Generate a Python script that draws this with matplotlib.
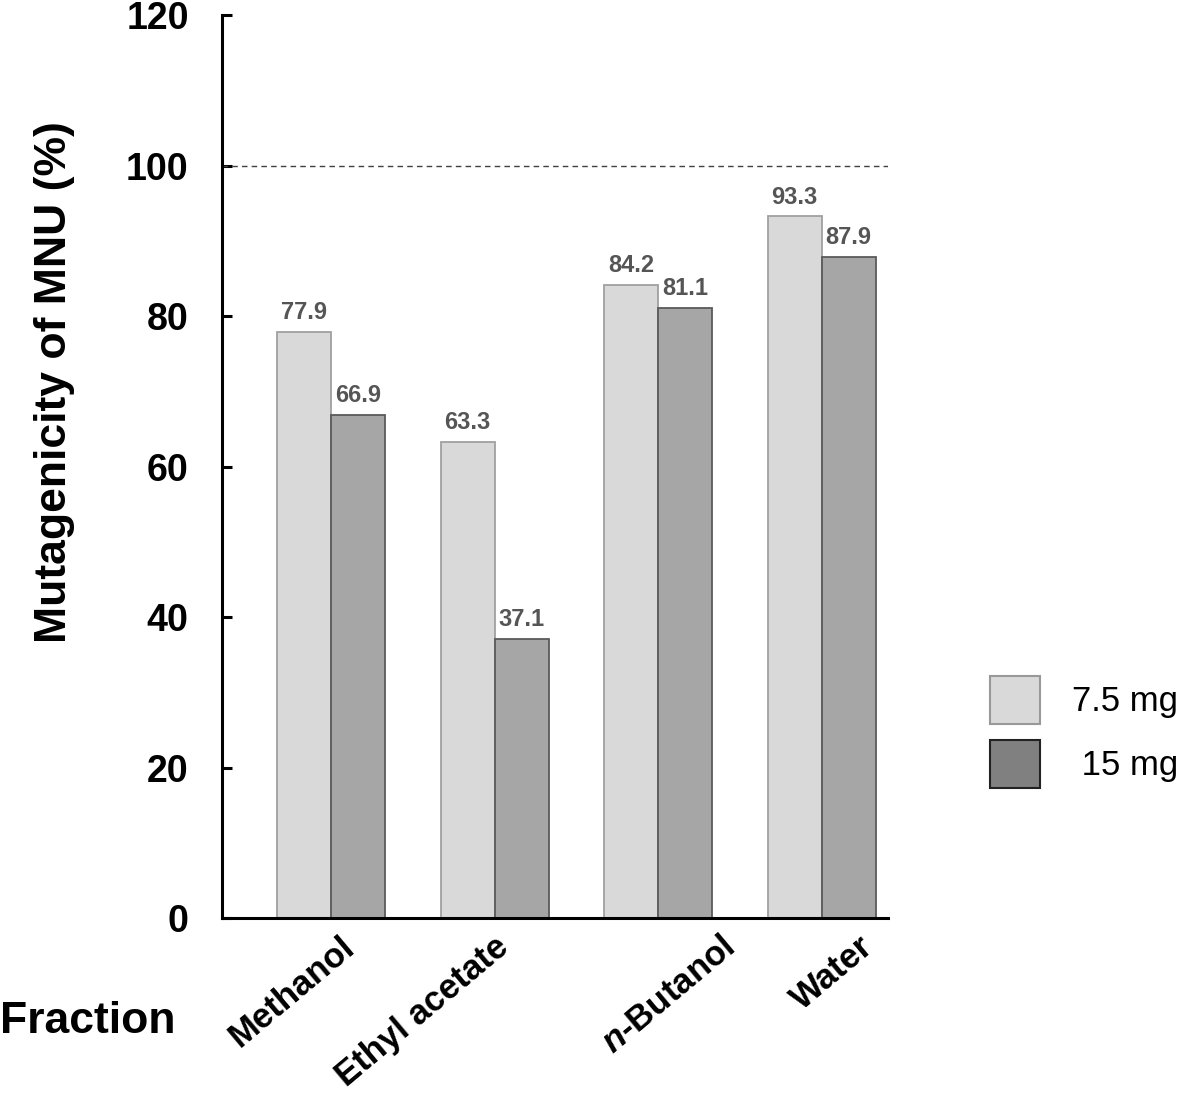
import matplotlib.pyplot as plt
import matplotlib.transforms as mtransforms
import numpy as np
from matplotlib.patches import Patch

plt.rcParams['font.family'] = 'Liberation Sans'
plt.rcParams['mathtext.fontset'] = 'custom'
plt.rcParams['mathtext.bfit'] = 'Liberation Sans:italic:bold'
plt.rcParams['mathtext.rm'] = 'Liberation Sans:bold'

# Dados
fracoes = ['Methanol', 'Ethyl acetate', '$\\mathbfit{n}$-Butanol', 'Water']
dose_7_5 = [77.9, 63.3, 84.2, 93.3]
dose_15 = [66.9, 37.1, 81.1, 87.9]
yticks = [0, 20, 40, 60, 80, 100, 120]
legendas = ['7.5 mg', ' 15 mg']

x = np.arange(len(fracoes))
w = 0.33

fig = plt.figure(figsize=(11.81, 10.98), dpi=100)
ax = fig.add_axes([0.188, 0.164, 0.564, 0.822])

b1 = ax.bar(x - w / 2, dose_7_5, w, color='#d9d9d9', edgecolor='#a0a0a0', linewidth=1.3)
b2 = ax.bar(x + w / 2, dose_15, w, color='#a6a6a6', edgecolor='#5a5a5a', linewidth=1.3)

for bars, vals in [(b1, dose_7_5), (b2, dose_15)]:
    for b, v in zip(bars, vals):
        ax.text(b.get_x() + b.get_width() / 2, v + 1.0, f'{v:.1f}',
                ha='center', va='bottom', fontsize=17, color='#555555', fontweight='bold')

ax.axhline(100, color='#404040', linestyle=(0, (4, 3)), linewidth=1)

ax.set_xlim(-0.667, 3.407)
ax.set_ylim(0, 120)
ax.set_yticks(yticks)
ax.set_yticklabels([str(t) for t in yticks], fontsize=27, fontweight='bold')
ax.tick_params(axis='y', direction='in', length=7, width=2.2, pad=24)
ax.set_xticks(x)
ax.set_xticklabels(fracoes, rotation=40, ha='right', va='top', rotation_mode='anchor',
                   fontsize=25, fontweight='bold')
ax.tick_params(axis='x', length=0, pad=9)

# deslocamento individual dos rótulos (px)
desloc = [9, -1, 62, 37]
for lab, dx in zip(ax.get_xticklabels(), desloc):
    lab.set_transform(lab.get_transform() +
                      mtransforms.ScaledTranslation(dx / 100, 0, fig.dpi_scale_trans))

ax.spines['top'].set_visible(False)
ax.spines['right'].set_visible(False)
ax.spines['left'].set_linewidth(2.2)
ax.spines['bottom'].set_linewidth(2.2)

ax.set_ylabel('Mutagenicity of MNU (%)', fontsize=32, fontweight='bold')
ax.yaxis.set_label_coords(-0.2207, 0.5936)
fig.text(0.0, 0.07, 'Fraction', fontsize=32, fontweight='bold', ha='left', va='center')

handles = [Patch(facecolor='#d9d9d9', edgecolor='#999999', linewidth=1.5),
           Patch(facecolor='#808080', edgecolor='#222222', linewidth=1.5)]
fig.legend(handles, legendas, loc='upper left',
           bbox_to_anchor=(990 / 1181, 1 - 676 / 1098), borderpad=0, borderaxespad=0,
           frameon=False, fontsize=25, handlelength=1.44, handleheight=1.75,
           labelspacing=0.45, handletextpad=0.92)

plt.savefig('out.png', dpi=100)
